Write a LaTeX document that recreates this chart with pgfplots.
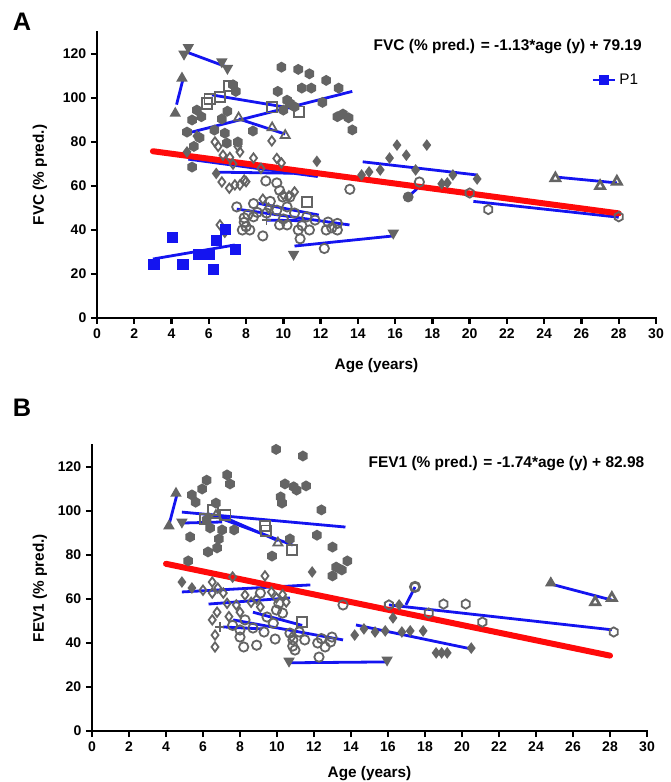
\documentclass[border=0pt]{standalone}
\usepackage{fontspec}
\setmainfont{Liberation Sans}
\usepackage{pgfplots}
\pgfplotsset{compat=1.18}

\definecolor{mgray}{RGB}{100,100,100}
\definecolor{pblue}{RGB}{20,20,240}
\definecolor{pred}{RGB}{255,10,10}

\pgfdeclareplotmark{hexagon*}{%
  \pgfpathmoveto{\pgfqpointpolar{30}{\pgfplotmarksize}}%
  \pgfpathlineto{\pgfqpointpolar{90}{\pgfplotmarksize}}%
  \pgfpathlineto{\pgfqpointpolar{150}{\pgfplotmarksize}}%
  \pgfpathlineto{\pgfqpointpolar{210}{\pgfplotmarksize}}%
  \pgfpathlineto{\pgfqpointpolar{270}{\pgfplotmarksize}}%
  \pgfpathlineto{\pgfqpointpolar{330}{\pgfplotmarksize}}%
  \pgfpathclose\pgfusepathqfillstroke}
\pgfdeclareplotmark{hexagon}{%
  \pgfpathmoveto{\pgfqpointpolar{30}{\pgfplotmarksize}}%
  \pgfpathlineto{\pgfqpointpolar{90}{\pgfplotmarksize}}%
  \pgfpathlineto{\pgfqpointpolar{150}{\pgfplotmarksize}}%
  \pgfpathlineto{\pgfqpointpolar{210}{\pgfplotmarksize}}%
  \pgfpathlineto{\pgfqpointpolar{270}{\pgfplotmarksize}}%
  \pgfpathlineto{\pgfqpointpolar{330}{\pgfplotmarksize}}%
  \pgfpathclose\pgfusepathqstroke}

\pgfplotsset{
  panel/.style={
    scale only axis, height=214.5pt,
    xmin=0, xmax=30, ymin=0, ymax=130,
    axis x line*=bottom, axis y line*=left,
    axis line style={line width=2.2pt, line cap=rect},
    xtick={0,2,...,30}, ytick={0,20,...,120},
    tick style={line width=1.8pt, black},
    tick align=outside, major tick length=4.5pt,
    /pgf/number format/assume math mode=true,
    tick label style={font=\bfseries\fontsize{10.5}{12}\selectfont},
    label style={font=\bfseries\fontsize{11.5}{13}\selectfont},
    clip=false,
  },
  gm/.style={only marks, forget plot, mgray, fill=mgray, line width=1.1pt,
    mark size=3.5pt},
  gmo/.style={gm, line width=1.35pt},
  bl/.style={pblue, line width=2.1pt, no marks, forget plot},
  rl/.style={pred, line width=4.5pt, line cap=round, no marks, forget plot},
}

\begin{document}
\begin{tikzpicture}
\useasboundingbox (0,0) rectangle (503.25pt,586.5pt);
\node[font=\bfseries\fontsize{19}{21}\selectfont] at (16.5pt,570pt) {A};
\node[font=\bfseries\fontsize{19}{21}\selectfont] at (16.5pt,280.5pt) {B};

% ---------------- panel A: FVC
\begin{axis}[panel, at={(72.75pt,348pt)}, anchor=south west, width=419.25pt,
  xlabel={Age (years)}, ylabel={FVC (\% pred.)},
  xlabel style={at={(axis description cs:0.5,-0.168)}, anchor=center},
  ylabel style={at={(axis description cs:-0.102,0.5)}, anchor=center},
  legend style={draw=none, fill=none, at={(axis cs:26.3,108.2)}, anchor=west,
    font=\fontsize{11.5}{13}\selectfont},
]
\addplot[gm, mark=hexagon*] coordinates {
(4.83,84.5)(5.1,90)(5.36,94.5)(5.6,91.5)(5.2,78)(5.1,68.6)(6.3,85.4)(6.7,90.5)
(6.86,84)(6.97,79.5)(7.3,106)(7.45,103)(7.56,80)(8.37,85)(7.0,94)(5.5,82)
(9.9,114)(10.8,113)(11.4,111)(12.3,108)(9.7,103)(10.99,104.5)(11.5,104.5)
(12.97,104.5)(10.2,99)(10.35,97.6)(10.6,96)(12.1,98)(12.9,91.5)(13.2,92.7)
(13.5,91)(13.7,85.5)(10.0,94.5)};
\addplot[gm, mark=diamond*] coordinates {
(5.36,82.7)(4.83,75.5)(6.4,65.7)(11.8,71.2)
(14.2,65)(14.6,66.4)(15.2,67.3)(15.7,72.7)(16.1,78.6)(16.6,74)(17.1,67.3)
(17.7,78.6)(18.5,61)(18.8,61.4)(19.1,65)(20.4,63.2)};
\addplot[gmo, mark=diamond] coordinates {
(6.33,80)(6.76,74)(7.13,73)(7.56,78)(7.67,75.5)(8.4,72.7)(9.38,80.5)(9.65,72.5)
(6.7,61.8)(7.1,59)(7.9,62.7)(7.67,60.5)(10.6,57.3)(10.3,55.5)(6.6,42.3)(6.86,39)
(8.9,54)(9.2,50)(10.0,56)(6.5,78)(7.3,70)(8.8,68)(9.9,70.5)(7.4,60.5)(8.0,62)};
\addplot[gmo, mark=o] coordinates {
(7.5,50.5)(7.9,45.5)(8.0,41.5)(7.8,40)(8.2,40)(7.9,43.5)(8.1,47)(8.9,37.3)
(9.06,62.3)(9.65,61.4)(9.8,58)(9.97,55)(10.35,55)(9.65,49)(9.1,47.7)(8.4,46)
(8.6,48)(9.8,42.3)(10.2,42.3)(10.8,40)(11.4,40)(10.9,36)(12.2,31.6)(12.3,40)
(12.9,40)(12.9,43)(12.4,43.6)(11.26,46)(11.7,44.5)(10.2,50.5)(10.6,47.7)
(13.57,58.5)(8.4,52)(9.3,53)(10.0,45)(11.0,42)(12.6,41)(17.3,61.8)};
\addplot[gmo, mark=hexagon] coordinates {(20.0,56.8)(21.0,49.3)(28.0,46)};
\addplot[gm, mark=*] coordinates {(16.7,55)};
\addplot[gmo, mark=square, mark size=3.9pt] coordinates {
(5.9,97.5)(6.05,99.5)(6.6,100.5)(7.1,105.4)(9.4,95.8)(10.85,93.8)(11.26,52.7)};
\addplot[gmo, mark=triangle, mark size=3.9pt] coordinates {
(7.6,91)(9.4,86.5)(10.1,83)};
\addplot[gm, mark=triangle, mark size=3.9pt, line width=2pt] coordinates {
(24.6,63.5)(27.0,60)(27.9,62)};
\addplot[gm, mark=triangle*, mark size=3.9pt] coordinates {(4.2,93)(4.56,109)};
\addplot[gm, mark=triangle*, mark size=3.9pt, mark options={rotate=180}] coordinates {
(4.67,120)(4.9,123)(6.7,116.5)(7.0,113.5)(10.55,29)(15.9,38.6)};
\addplot[gmo, mark=+] coordinates {(9.1,44.5)};
% patient trend lines
\addplot[bl] coordinates {(3.0,26.8)(7.4,33.2)};
\addplot[bl] coordinates {(4.77,121)(7.0,114)};
\addplot[bl] coordinates {(4.27,97)(4.6,108)};
\addplot[bl] coordinates {(6.17,101.4)(10.7,95)};
\addplot[bl] coordinates {(4.85,84)(13.7,103)};
\addplot[bl] coordinates {(7.6,90.5)(10.1,83.6)};
\addplot[bl] coordinates {(4.9,72.2)(11.85,64.3)};
\addplot[bl] coordinates {(6.4,66.3)(10.5,65.8)};
\addplot[bl] coordinates {(8.6,52.2)(11.9,46.8)};
\addplot[bl] coordinates {(7.5,49.5)(13.55,42.3)};
\addplot[bl] coordinates {(9.1,44.5)(11.05,44.2)};
\addplot[bl] coordinates {(10.6,32.7)(15.9,37.3)};
\addplot[bl] coordinates {(14.26,71)(20.4,65)};
\addplot[bl] coordinates {(16.7,55)(17.2,59)};
\addplot[bl] coordinates {(20.2,53)(28,45.8)};
\addplot[bl] coordinates {(24.7,64)(27.9,61.4)};
% P1
\addplot[only marks, forget plot, mark=square*, mark size=3.8pt,
  pblue, fill=pblue] coordinates {
(3.05,24.5)(4.05,36.8)(4.6,24.5)(5.45,29.1)(6.0,29.1)(6.25,22.3)(6.4,35.5)(6.9,40.5)(7.4,31.4)};
% overall regression
\addplot[rl] coordinates {(3,75.8)(28,47.55)};
\addlegendimage{pblue, line width=2pt, mark=square*, mark size=2.6pt}
\addlegendentry{P1}
\node[font=\bfseries\fontsize{11.6}{13}\selectfont] at (axis cs:22.04,123.2)
  {FVC (\% pred.) = -1.13*age (y) + 79.19};
\end{axis}

% ---------------- panel B: FEV1
\begin{axis}[panel, at={(69pt,38.25pt)}, anchor=south west, width=416.25pt,
  xlabel={Age (years)}, ylabel={FEV1 (\% pred.)},
  xlabel style={at={(axis description cs:0.5,-0.15)}, anchor=center},
  ylabel style={at={(axis description cs:-0.094,0.5)}, anchor=center},
]
\addplot[gm, mark=hexagon*] coordinates {
(9.95,128)(11.4,125)(7.3,116.4)(7.46,112.3)(6.2,114)(5.95,110)(5.4,107.3)(5.6,104)
(6.7,103.6)(10.43,112.3)(10.9,111)(11.06,109.5)(11.57,111.4)(10.2,106.4)(10.27,103.6)
(12.4,100.5)(5.3,88.2)(6.38,92.3)(7.03,91.4)(7.68,91.4)(6.86,87.3)(6.27,81.4)
(6.76,83.2)(5.2,77.3)(9.73,79.5)(10.7,87.3)(12.16,89)(13.0,83.6)(13.8,77.3)
(13.2,74.5)(13.5,73.2)(13.0,70.5)(6.2,96)};
\addplot[gm, mark=diamond*] coordinates {
(4.86,67.7)(5.4,65)(11.9,72.3)(14.2,43.6)(14.7,46.4)(15.3,45)(15.85,45.5)(16.75,45)
(17.2,45.5)(17.9,45.5)(16.27,51.4)(18.6,35.5)(18.9,35.5)(19.2,35.5)(20.5,37.7)(16.6,57.3)};
\addplot[gmo, mark=diamond] coordinates {
(6.5,67.7)(7.6,70)(9.35,70.5)(6.8,65)(6.0,64)(6.5,62.7)(7.1,62.7)(8.27,61.8)
(9.7,63.2)(9.97,60.5)(10.5,58.6)(6.76,54)(6.5,50.5)(6.65,43.6)(6.65,38.2)(7.8,57.3)
(9.1,56.4)(10.8,42.7)(7.3,58)(8.0,54)(8.6,58.5)(10.3,62)(7.4,52)(8.9,60)};
\addplot[gmo, mark=o] coordinates {
(8.2,38.2)(8.9,39)(9.9,41.8)(10.85,38.6)(10.97,36.8)(12.27,33.6)(12.2,40)(12.6,38.2)
(12.9,40.5)(12.97,42.7)(11.5,41.4)(13.57,57.3)(8.0,42.7)(8.0,45.9)(8.7,46.8)
(9.46,51.8)(9.97,55)(10.3,53.6)(9.1,62.7)(9.8,49)(10.7,44.5)(10.86,41.4)(8.27,50.5)
(7.6,48)(9.3,45)(11.2,45)(12.4,42)(10.1,58)};
\addplot[gm, mark=o, line width=2pt] coordinates {(17.46,65.5)};
\addplot[gmo, mark=hexagon] coordinates {
(19.0,57.7)(20.2,57.7)(21.1,49.5)(18.2,53.6)(16.05,57.3)(28.2,45)};
\addplot[gmo, mark=square, mark size=3.9pt] coordinates {
(6.1,96.4)(6.55,100.5)(7.2,98.2)(9.35,93.2)(9.4,91)(10.8,82.3)(11.36,49.5)};
\addplot[gmo, mark=triangle, mark size=3.9pt] coordinates {(10.05,85.5)(6.7,98)};
\addplot[gm, mark=triangle, mark size=3.9pt, line width=2pt] coordinates {
(27.2,58.6)(28.1,60.5)};
\addplot[gm, mark=triangle*, mark size=3.9pt] coordinates {(4.16,93.2)(4.54,108)(24.8,67.3)};
\addplot[gm, mark=triangle*, mark size=3.9pt, mark options={rotate=180}] coordinates {
(4.86,95)(10.65,31.8)(15.95,32.3)};
\addplot[gmo, mark=+] coordinates {(6.9,47.3)};
% patient trend lines
\addplot[bl] coordinates {(4.16,93.6)(4.6,107.7)};
\addplot[bl] coordinates {(4.86,99.5)(13.7,92.7)};
\addplot[bl] coordinates {(4.75,94.5)(7.03,95)};
\addplot[bl] coordinates {(6.2,99)(10.85,84.5)};
\addplot[bl] coordinates {(6.9,98)(10.05,86.5)};
\addplot[bl] coordinates {(4.86,63.2)(11.8,66.4)};
\addplot[bl] coordinates {(6.3,57.7)(10.7,60.5)};
\addplot[bl] coordinates {(8.7,54)(11.36,48)};
\addplot[bl] coordinates {(7.63,50.5)(13.57,41.4)};
\addplot[bl] coordinates {(7.08,47.3)(9.2,46.4)};
\addplot[bl] coordinates {(10.6,31)(15.95,31.4)};
\addplot[bl] coordinates {(16.05,57.3)(28.1,46)};
\addplot[bl] coordinates {(16.97,57.3)(17.46,65.5)};
\addplot[bl] coordinates {(24.8,66.8)(28.1,59.5)};
\addplot[bl] coordinates {(14.27,48.2)(20.5,37.3)};
% overall regression
\addplot[rl] coordinates {(4,76.0)(28,34.26)};
\node[font=\bfseries\fontsize{11.6}{13}\selectfont] at (axis cs:22.4,121.8)
  {FEV1 (\% pred.) = -1.74*age (y) + 82.98};
\end{axis}
\end{tikzpicture}
\end{document}
